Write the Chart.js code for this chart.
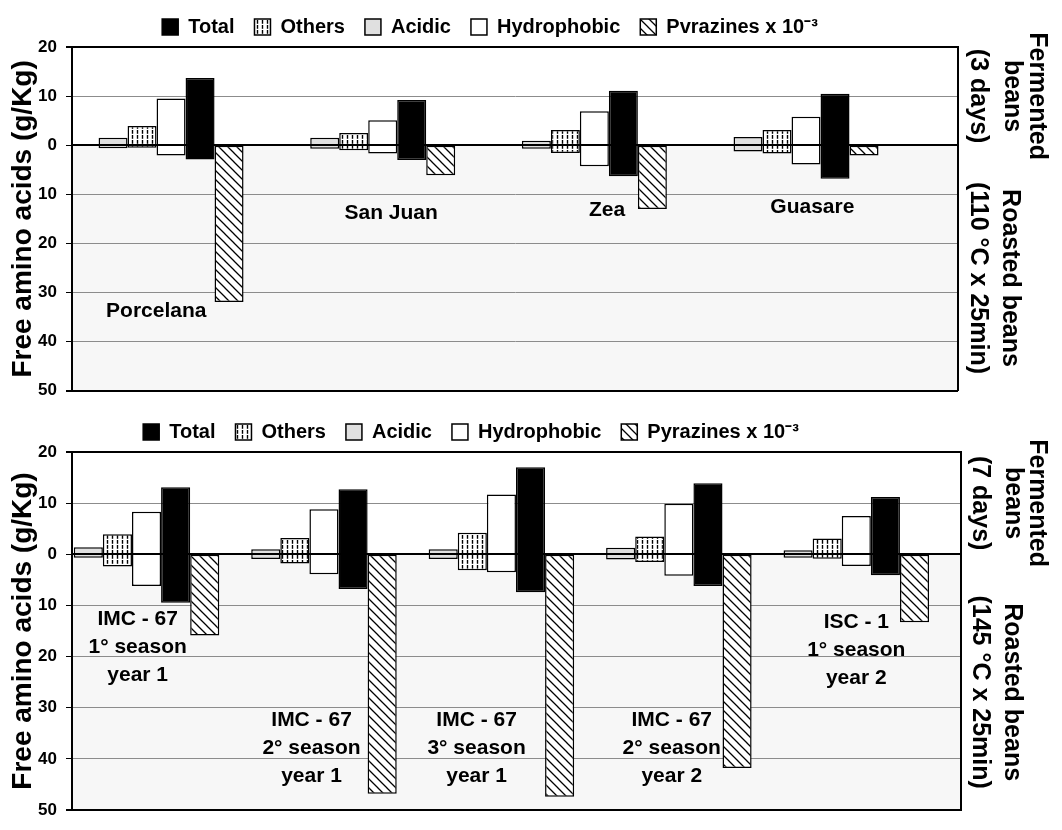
<!DOCTYPE html>
<html>
<head>
<meta charset="utf-8">
<title>Free amino acids</title>
<script src="https://cdn.jsdelivr.net/npm/chart.js@4.4.1/dist/chart.umd.min.js"></script>
<style>
  html, body { margin: 0; padding: 0; background: #fff; }
  canvas { display: block; }
</style>
</head>
<body>
<canvas id="topChart" width="1062" height="410"></canvas>
<canvas id="bottomChart" width="1062" height="420"></canvas>
<script>
// TOP PANEL (fermented 3 days / roasted 110 °C x 25 min), g/Kg
const topCategories = ['Porcelana', 'San Juan', 'Zea', 'Guasare'];
const topAcidicFermented = [1.5, 1.5, 0.9, 1.7];
const topOthersFermented = [3.9, 2.5, 3.1, 3.1];
const topHydrophobicFermented = [9.5, 5.1, 6.9, 5.8];
const topTotalFermented = [13.7, 9.2, 11.1, 10.5];
const topAcidicRoasted = [0.6, 0.7, 0.7, 1.3];
const topOthersRoasted = [0.5, 1.0, 1.6, 1.7];
const topHydrophobicRoasted = [2.1, 1.7, 4.3, 3.9];
const topTotalRoasted = [2.9, 3.0, 6.3, 6.8];
const topPyrazinesRoasted = [31.9, 6.1, 13.0, 2.1];

// BOTTOM PANEL (fermented 7 days / roasted 145 °C x 25 min), g/Kg
const bottomCategories = [
  ['IMC - 67', '1° season', 'year 1'],
  ['IMC - 67', '2° season', 'year 1'],
  ['IMC - 67', '3° season', 'year 1'],
  ['IMC - 67', '2° season', 'year 2'],
  ['ISC - 1', '1° season', 'year 2']
];
const bottomAcidicFermented = [1.4, 1.0, 1.0, 1.3, 0.8];
const bottomOthersFermented = [3.9, 3.2, 4.2, 3.5, 3.1];
const bottomHydrophobicFermented = [8.3, 8.8, 11.7, 9.9, 7.5];
const bottomTotalFermented = [13.1, 12.7, 17.0, 13.9, 11.2];
const bottomAcidicRoasted = [0.7, 0.9, 0.9, 1.0, 0.7];
const bottomOthersRoasted = [2.4, 1.8, 3.1, 1.5, 0.85];
const bottomHydrophobicRoasted = [6.2, 3.9, 3.5, 4.2, 2.3];
const bottomTotalRoasted = [9.5, 6.8, 7.4, 6.2, 4.1];
const bottomPyrazinesRoasted = [15.9, 46.8, 47.4, 41.8, 13.3];

// y axis ticks (shown as absolute values)
const yTicks = [20, 10, 0, -10, -20, -30, -40, -50];

// where the sample names sit inside each panel: [category offset, y value]
const topNotePos = [[-0.07, -33.8], [1.04, -13.8], [2.06, -13.2], [3.03, -12.7]];
const bottomNotePos = [[-0.05, -12.7], [0.93, -32.5], [1.86, -32.5], [2.96, -32.4], [4.0, -13.3]];

const FONT = "'Liberation Sans', Arial, sans-serif";
Chart.defaults.font.family = FONT;
Chart.defaults.color = '#000';

function makePattern(size, draw) {
  const c = document.createElement('canvas');
  c.width = size;
  c.height = size;
  const g = c.getContext('2d');
  g.fillStyle = '#fff';
  g.fillRect(0, 0, size, size);
  g.strokeStyle = '#000';
  draw(g, size);
  return g.createPattern(c, 'repeat');
}

// diagonal hatch for pyrazines
const hatch = makePattern(9, (g, s) => {
  g.lineWidth = 1.3;
  g.beginPath();
  g.moveTo(-1, -1); g.lineTo(s + 1, s + 1);
  g.moveTo(-1, s - 1); g.lineTo(1, s + 1);
  g.moveTo(s - 1, -1); g.lineTo(s + 1, 1);
  g.stroke();
});

// short vertical dashes for "others"
const dashes = makePattern(5, (g) => {
  g.lineWidth = 1.4;
  g.beginPath();
  g.moveTo(2.5, 0); g.lineTo(2.5, 3.8);
  g.stroke();
});

const legendOrder = ['Total', 'Others', 'Acidic', 'Hydrophobic', 'Pyrazines'];

function floating(up, down) {
  return up.map((v, i) => ({ x: i, y: [-down[i], v] }));
}

function buildDatasets(s) {
  const common = { borderColor: '#000', borderWidth: 1.5, borderSkipped: false };
  return [
    { ...common, label: 'Acidic', data: floating(s.acidicF, s.acidicR), backgroundColor: '#e0e0e0' },
    { ...common, label: 'Others', data: floating(s.othersF, s.othersR), backgroundColor: dashes },
    { ...common, label: 'Hydrophobic', data: floating(s.hydroF, s.hydroR), backgroundColor: '#fff' },
    { ...common, label: 'Total', data: floating(s.totalF, s.totalR), backgroundColor: '#000' },
    { ...common, label: s.pyrLabel, data: s.pyrR.map((v, i) => ({ x: i, y: [-v, 0] })), backgroundColor: hatch }
  ];
}

function legendKey(text) {
  return legendOrder.indexOf(text.split(' ')[0].replace('Pvrazines', 'Pyrazines'));
}

// shading below zero, sample names, side captions, legend offset
const panelDecor = {
  id: 'panelDecor',
  afterLayout(chart, args, opts) {
    if (chart.legend && opts.legendShift) {
      chart.legend.left += opts.legendShift;
      chart.legend.right += opts.legendShift;
    }
  },
  beforeDraw(chart) {
    const { ctx, chartArea } = chart;
    const y0 = chart.scales.y.getPixelForValue(0);
    ctx.save();
    ctx.fillStyle = '#f7f7f7';
    ctx.fillRect(chartArea.left, y0, chartArea.right - chartArea.left, chartArea.bottom - y0);
    ctx.restore();
  },
  afterDraw(chart, args, opts) {
    const { ctx, chartArea, scales } = chart;
    ctx.save();
    ctx.fillStyle = '#000';
    ctx.textAlign = 'center';
    ctx.textBaseline = 'middle';
    ctx.font = 'bold 21px ' + FONT;
    opts.notes.forEach((lines, i) => {
      const pos = opts.notePos[i];
      const x = scales.x.getPixelForValue(pos[0]);
      const y = scales.y.getPixelForValue(pos[1]);
      [].concat(lines).forEach((line, j) => ctx.fillText(line, x, y + j * 28));
    });
    const y0 = scales.y.getPixelForValue(0);
    const mids = { upper: (chartArea.top + y0) / 2, lower: (y0 + chartArea.bottom) / 2 + 10 };
    ctx.font = 'bold 25px ' + FONT;
    opts.side.forEach((block) => {
      block.lines.forEach((line, j) => {
        ctx.save();
        ctx.translate(chartArea.right + block.dx[j], mids[block.region]);
        ctx.rotate(Math.PI / 2);
        ctx.fillText(line, 0, 0);
        ctx.restore();
      });
    });
    ctx.restore();
  }
};

function makeChart(id, s) {
  return new Chart(document.getElementById(id), {
    type: 'bar',
    data: { datasets: buildDatasets(s) },
    plugins: [panelDecor],
    options: {
      responsive: false,
      animation: false,
      layout: { padding: { top: s.padTop, bottom: s.padBottom, left: 0, right: 0 } },
      datasets: { bar: { categoryPercentage: s.groupWidth, barPercentage: 1.0 } },
      scales: {
        x: {
          type: 'linear',
          offset: false,
          position: { y: 0 },
          min: s.xMin,
          max: s.xMax,
          ticks: { display: false, stepSize: 1, includeBounds: false },
          grid: { display: false },
          border: { display: true, color: '#000', width: 2, z: 1 }
        },
        y: {
          min: -50,
          max: 20,
          afterFit: (scale) => { scale.width = 72; },
          afterBuildTicks: (scale) => { scale.ticks = yTicks.map((v) => ({ value: v })); },
          ticks: {
            font: { size: 17, weight: 'bold' },
            padding: 9,
            callback: (v) => Math.abs(v)
          },
          grid: {
            color: (c) => (c.tick && (c.tick.value === 20 || c.tick.value === -50)) ? '#000' : '#8c8c8c',
            lineWidth: (c) => (c.tick && (c.tick.value === 20 || c.tick.value === -50)) ? 2 : 1,
            tickColor: '#000',
            tickLength: 6
          },
          border: { display: true, color: '#000', width: 2 },
          title: {
            display: true,
            text: 'Free amino acids (g/Kg)',
            font: { size: 28, weight: 'bold' },
            padding: { top: 6, bottom: 0 }
          }
        },
        y2: {
          position: 'right',
          display: true,
          afterFit: (scale) => { scale.width = s.rightWidth; },
          ticks: { display: false },
          grid: { display: false },
          border: { display: true, color: '#000', width: 2 }
        }
      },
      plugins: {
        legend: {
          display: true,
          position: 'top',
          labels: {
            boxWidth: 16,
            boxHeight: 16,
            padding: 20,
            font: { size: 20, weight: 'bold' },
            sort: (a, b) => legendKey(a.text) - legendKey(b.text)
          }
        },
        tooltip: { enabled: false },
        panelDecor: {
          legendShift: s.legendShift,
          notes: s.categories,
          notePos: s.notePos,
          side: s.side
        }
      }
    }
  });
}

makeChart('topChart', {
  categories: topCategories,
  notePos: topNotePos,
  acidicF: topAcidicFermented, acidicR: topAcidicRoasted,
  othersF: topOthersFermented, othersR: topOthersRoasted,
  hydroF: topHydrophobicFermented, hydroR: topHydrophobicRoasted,
  totalF: topTotalFermented, totalR: topTotalRoasted,
  pyrR: topPyrazinesRoasted,
  pyrLabel: 'Pvrazines x 10⁻³',
  xMin: -0.468, xMax: 3.718, groupWidth: 0.685,
  padTop: -3, padBottom: 19, rightWidth: 104, legendShift: -41,
  side: [
    { region: 'upper', lines: ['Fermented', 'beans', '(3 days)'], dx: [79, 54, 20] },
    { region: 'lower', lines: ['Roasted beans', '(110 °C x 25min)'], dx: [52, 20] }
  ]
});

makeChart('bottomChart', {
  categories: bottomCategories,
  notePos: bottomNotePos,
  acidicF: bottomAcidicFermented, acidicR: bottomAcidicRoasted,
  othersF: bottomOthersFermented, othersR: bottomOthersRoasted,
  hydroF: bottomHydrophobicFermented, hydroR: bottomHydrophobicRoasted,
  totalF: bottomTotalFermented, totalR: bottomTotalRoasted,
  pyrR: bottomPyrazinesRoasted,
  pyrLabel: 'Pyrazines x 10⁻³',
  xMin: -0.42, xMax: 4.59, groupWidth: 0.82,
  padTop: -8, padBottom: 20, rightWidth: 101, legendShift: -60,
  side: [
    { region: 'upper', lines: ['Fermented', 'beans', '(7 days)'], dx: [76, 52, 19] },
    { region: 'lower', lines: ['Roasted beans', '(145 °C x 25min)'], dx: [51, 19] }
  ]
});
</script>
</body>
</html>
